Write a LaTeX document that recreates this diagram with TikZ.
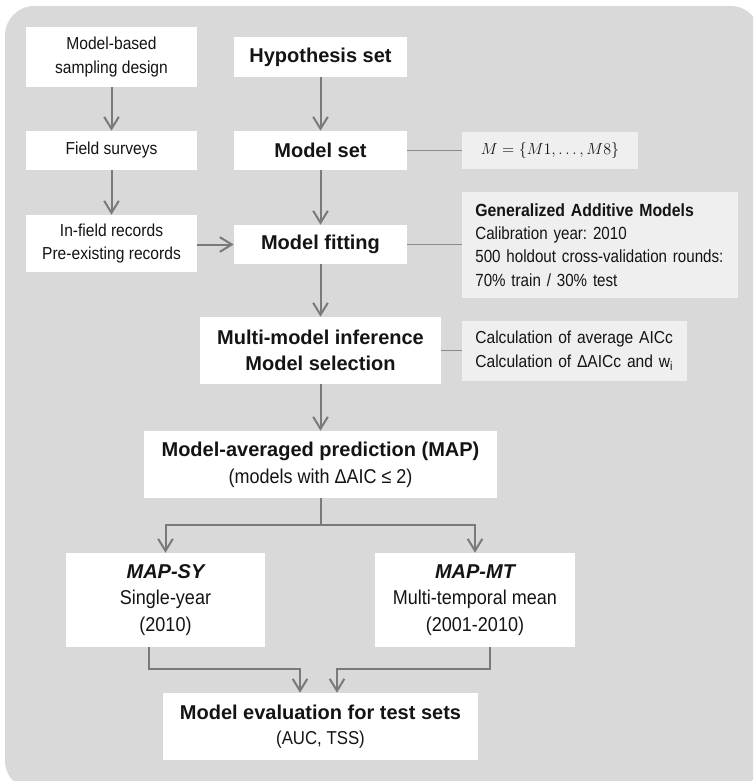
\documentclass[tikz,border=0pt]{standalone}
\usepackage{fontspec}
\setmainfont{Liberation Sans}[FakeStretch=0.9]
\newfontfamily\bigb{Liberation Sans}
\newfontfamily\sidef{Liberation Sans}[FakeStretch=0.86]
\usetikzlibrary{arrows.meta}
\frenchspacing
\definecolor{bg}{HTML}{D9D9D9}
\definecolor{side}{HTML}{EFEFEF}
\definecolor{arrc}{HTML}{7A7A7A}
\definecolor{linec}{HTML}{8A8A8A}
\definecolor{txt}{HTML}{141414}
\tikzset{
  box/.style={fill=white, inner sep=0pt, align=center, text=txt},
  sbox/.style={fill=side, inner sep=0pt, text=txt},
  lbox/.style={sbox, align=left, inner xsep=0pt, execute at begin node={\leftskip=10pt\frenchspacing}},
  arr/.style={draw=arrc, line width=1.5pt, -{Straight Barb[length=9pt,width=11pt,line width=1.5pt]}},
  ln/.style={draw=linec, line width=1.1pt},
  small/.style={font=\fontsize{13}{17.5}\selectfont},
  large/.style={font=\fontsize{15}{20}\selectfont},
  bigbold/.style={font=\bigb\bfseries\fontsize{15}{20}\selectfont},
}
\begin{document}
\begin{tikzpicture}[x=0.75pt,y=-0.75pt]
\useasboundingbox (0,0) rectangle (753,781);
\clip (0,0) rectangle (753,781);
\fill[bg, rounded corners=22pt] (5,6) rectangle (760,790);

% left column
\node[box, small, minimum width=128.25pt, minimum height=45pt] (mbs) at (111.5,57) {Model-based\\sampling design};
\node[box, small, minimum width=128.25pt, minimum height=29.25pt] (fs) at (111.5,150.5) {Field surveys};
\node[box, small, minimum width=128.25pt, minimum height=42.75pt] (ifr) at (111.5,243.5) {In-field records\\Pre-existing records};

% centre column
\node[box, bigbold, minimum width=129.75pt, minimum height=30pt] (hyp) at (320.5,57) {Hypothesis set};
\node[box, bigbold, minimum width=129.75pt, minimum height=29.25pt] (ms) at (320.5,150.5) {Model set};
\node[box, bigbold, minimum width=129.75pt, minimum height=29.25pt] (fit) at (320.5,244.5) {Model fitting};
\node[box, bigbold, minimum width=180.75pt, minimum height=50.25pt] (mmi) at (320.5,350.5) {Multi-model inference\\Model selection};
\node[box, large, minimum width=264.75pt, minimum height=50.25pt] (map) at (320.5,464.5) {{\bigb\bfseries Model-averaged prediction (MAP)}\\(models with ΔAIC ≤ 2)};
\node[box, large, minimum width=149.25pt, minimum height=70.5pt] (sy) at (165.5,600) {{\bigb\bfseries\itshape MAP-SY}\\Single-year\\(2010)};
\node[box, large, minimum width=150pt, minimum height=70.5pt] (mt) at (475,600) {{\bigb\bfseries\itshape MAP-MT}\\Multi-temporal mean\\(2001-2010)};
\node[box, font=\fontsize{14}{19}\selectfont, minimum width=236.25pt, minimum height=50.25pt] (eval) at (320.5,726.5) {{\bigb\bfseries\fontsize{15}{19}\selectfont Model evaluation for test sets}\\(AUC, TSS)};

% side boxes
\node[sbox, font=\fontsize{12}{15}\selectfont, minimum width=132pt, minimum height=27.75pt] (mbox) at (550,150.5) {$M=\{M1,\ldots,M8\}$};
\node[lbox, font=\sidef\fontsize{13.2}{17.5}\selectfont, text width=207pt, minimum height=79.5pt] (gam) at (600,245) {{\setmainfont{Liberation Sans}[FakeStretch=0.9]\bfseries Generalized Additive Models}\\Calibration year: 2010\\\mbox{500 holdout cross-validation rounds:}\\70\% train / 30\% test};
\node[lbox, font=\fontsize{13}{17.5}\selectfont, text width=168.75pt, minimum height=45pt] (calc) at (574.5,351) {Calculation of average AICc\\Calculation of ΔAICc and w\textsubscript{i}};

% connectors
\draw[arr] (mbs) -- (fs);
\draw[arr] (fs) -- (ifr);
\draw[arr] (ifr.east |- fit.west) -- (fit.west);
\draw[arr] (hyp) -- (ms);
\draw[arr] (ms) -- (fit);
\draw[arr] (fit) -- (mmi);
\draw[arr] (mmi) -- (map);
\draw[ln] (ms) -- (mbox);
\draw[ln] (fit.east) -- (gam.west |- fit.east);
\draw[ln] (mmi.east) -- (calc.west |- mmi.east);
\draw[arr] (map.south) -- ++(0,27) -| (sy.north);
\draw[arr] (map.south) -- ++(0,27) -| (mt.north);
\draw[arr] ([xshift=-12.375pt]sy.south) -- ++(0,22) -| ([xshift=-15.375pt]eval.north);
\draw[arr] ([xshift=11.25pt]mt.south) -- ++(0,22) -| ([xshift=12.375pt]eval.north);
\end{tikzpicture}
\end{document}
